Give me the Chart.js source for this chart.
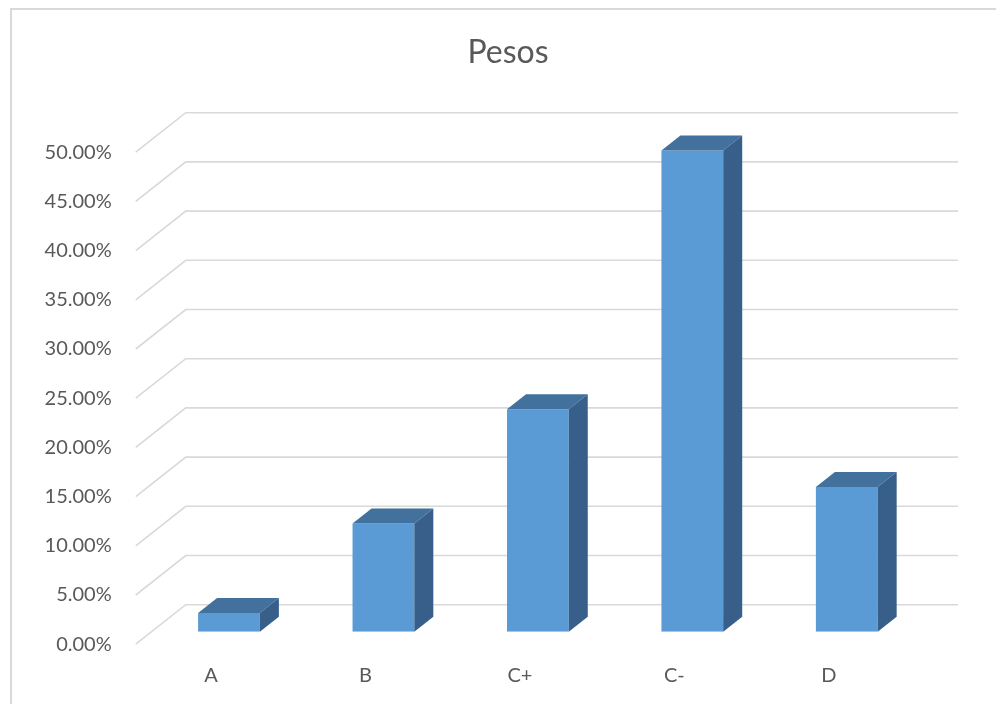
<!DOCTYPE html>
<html>
<head>
<meta charset="utf-8">
<script src="https://cdn.jsdelivr.net/npm/chart.js"></script>
<style>
  html, body { margin: 0; padding: 0; background: #fff; }
  #wrap { width: 996px; height: 704px; }
</style>
</head>
<body>
<div id="wrap"><canvas id="pesosChart" width="996" height="704"></canvas></div>
<script>
// Data
const categories = ['A', 'B', 'C+', 'C-', 'D'];
const pesos = [0.019, 0.110, 0.226, 0.489, 0.147];
const axisMin = 0;
const axisMax = 0.5;
const axisStep = 0.05;

// 3D look: the bars sit a bit behind the front edge of the floor,
// the back wall is further in.
const FRONT = { dx: -16, dy: 12.5 };
const BACK = { dx: 34, dy: -27 };
const BAR_DEPTH = { dx: 19, dy: -15 };

const textColor = '#595959';
const gridColor = '#d9d9d9';
const frontColor = '#5b9bd5';
const topColor = '#41719c';
const sideColor = '#375f8a';

// outer frame + slanted gridlines + bar top/side faces
const wallsPlugin = {
  id: 'walls',
  beforeDraw(chart) {
    const ctx = chart.ctx;
    ctx.save();
    ctx.fillStyle = '#fff';
    ctx.fillRect(0, 0, chart.width, chart.height);
    ctx.strokeStyle = gridColor;
    ctx.lineWidth = 2;
    ctx.beginPath();
    ctx.moveTo(11, chart.height + 5);
    ctx.lineTo(11, 9);
    ctx.lineTo(chart.width + 5, 9);
    ctx.stroke();
    ctx.restore();
  },
  beforeDatasetsDraw(chart) {
    const ctx = chart.ctx;
    const yScale = chart.scales.y;
    const area = chart.chartArea;
    ctx.save();
    ctx.strokeStyle = gridColor;
    ctx.lineWidth = 1.6;
    yScale.ticks.forEach(t => {
      const y = yScale.getPixelForValue(t.value);
      ctx.beginPath();
      ctx.moveTo(area.left + FRONT.dx, y + FRONT.dy);
      ctx.lineTo(area.left + BACK.dx, y + BACK.dy);
      ctx.lineTo(area.right + BACK.dx, y + BACK.dy);
      ctx.stroke();
    });
    ctx.restore();
  },
  afterDatasetsDraw(chart) {
    const ctx = chart.ctx;
    const meta = chart.getDatasetMeta(0);
    ctx.save();
    meta.data.forEach(bar => {
      const p = bar.getProps(['x', 'y', 'base', 'width'], true);
      const left = p.x - p.width / 2;
      const right = p.x + p.width / 2;
      // top face
      ctx.fillStyle = topColor;
      ctx.beginPath();
      ctx.moveTo(left, p.y);
      ctx.lineTo(left + BAR_DEPTH.dx, p.y + BAR_DEPTH.dy);
      ctx.lineTo(right + BAR_DEPTH.dx, p.y + BAR_DEPTH.dy);
      ctx.lineTo(right, p.y);
      ctx.closePath();
      ctx.fill();
      // side face
      ctx.fillStyle = sideColor;
      ctx.beginPath();
      ctx.moveTo(right, p.y);
      ctx.lineTo(right + BAR_DEPTH.dx, p.y + BAR_DEPTH.dy);
      ctx.lineTo(right + BAR_DEPTH.dx, p.base + BAR_DEPTH.dy);
      ctx.lineTo(right, p.base);
      ctx.closePath();
      ctx.fill();
    });
    ctx.restore();
  }
};

const ctx = document.getElementById('pesosChart').getContext('2d');
new Chart(ctx, {
  type: 'bar',
  data: {
    labels: categories,
    datasets: [{
      label: 'Pesos',
      data: pesos,
      backgroundColor: frontColor,
      borderWidth: 0,
      barPercentage: 0.5,
      categoryPercentage: 0.8
    }]
  },
  options: {
    responsive: false,
    animation: false,
    devicePixelRatio: 1,
    layout: { padding: { left: 30, right: 10, top: 0, bottom: 0 } },
    plugins: {
      legend: { display: false },
      tooltip: { enabled: false },
      title: {
        display: true,
        text: 'Pesos',
        color: textColor,
        font: { family: 'Lato', size: 32, weight: 'normal' },
        padding: { top: 33, bottom: 68.3 }
      }
    },
    scales: {
      x: {
        grid: { display: false, drawTicks: false },
        border: { display: false },
        ticks: {
          color: textColor,
          font: { family: 'Lato', size: 20 },
          padding: 32,
          labelOffset: -18,
          maxRotation: 0
        },
        afterFit(scale) { scale.height = 72.3; }
      },
      y: {
        min: axisMin,
        max: axisMax,
        grid: { display: false, drawTicks: false },
        border: { display: false },
        ticks: {
          stepSize: axisStep,
          color: textColor,
          font: { family: 'Lato', size: 20 },
          padding: 40,
          labelOffset: 12.5,
          callback: v => (v * 100).toFixed(2) + '%'
        },
        afterFit(scale) { scale.width = 121.75; }
      },
      // empty strip on the right where the back wall runs out
      yRight: {
        position: 'right',
        min: axisMin,
        max: axisMax,
        grid: { display: false, drawTicks: false },
        border: { display: false },
        ticks: { display: false },
        afterFit(scale) { scale.width = 62; }
      }
    }
  },
  plugins: [wallsPlugin]
});
</script>
</body>
</html>
